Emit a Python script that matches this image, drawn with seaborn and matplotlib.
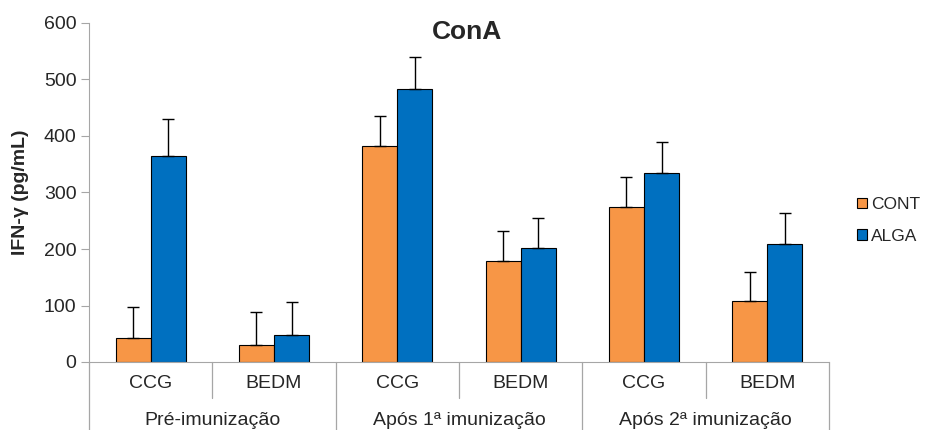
import numpy as np
import pandas as pd
import matplotlib
matplotlib.use("Agg")
import matplotlib.pyplot as plt
import matplotlib.transforms as mtransforms
import seaborn as sns

# data
periods = ["Pré-imunização", "Após 1ª imunização", "Após 2ª imunização"]
tests = ["CCG", "BEDM"]
series = ["CONT", "ALGA"]
cont_mean = [42, 30, 382, 179, 275, 108]
alga_mean = [364, 48, 484, 201, 335, 208]
cont_err = [55, 59, 54, 52, 52, 52]
alga_err = [66, 59, 55, 54, 54, 55]

colors = {"CONT": "#F79646", "ALGA": "#0070C0"}
grey = "#A6A6A6"

slots = [p + "|" + t for p in periods for t in tests]
df = pd.DataFrame({
    "slot": slots * 2,
    "value": cont_mean + alga_mean,
    "group": ["CONT"] * len(slots) + ["ALGA"] * len(slots),
})
errs = {"CONT": cont_err, "ALGA": alga_err}

sns.set_style("white")
plt.rcParams["font.family"] = ["Liberation Sans", "DejaVu Sans"]

fig = plt.figure(figsize=(9.28, 4.3), dpi=100)
ax = fig.add_axes([89 / 928, 68 / 430, 740 / 928, 339 / 430])

sns.barplot(data=df, x="slot", y="value", hue="group", order=slots,
            hue_order=series, palette=colors, width=0.57, saturation=1,
            edgecolor="black", linewidth=0.8, errorbar=None, ax=ax)

# upward-only error bars on top of each bar
for name, cont in zip(series, ax.containers):
    xs = [b.get_x() + b.get_width() / 2 for b in cont]
    ys = [b.get_height() for b in cont]
    e = np.array(errs[name])
    ax.errorbar(xs, ys, yerr=[np.zeros_like(e), e], fmt="none",
                ecolor="black", elinewidth=1, capsize=4, capthick=1, zorder=1)

ax.set_xlim(-0.5, len(slots) - 0.5)
ax.set_ylim(0, 600)
ax.set_yticks(range(0, 601, 100))
ax.tick_params(axis="y", length=6, width=0.8, color=grey, direction="out",
               labelsize=14, pad=3, left=True)
ax.set_xticks(range(len(slots)))
ax.set_xticklabels(tests * len(periods), fontsize=14)
ax.tick_params(axis="x", length=0, pad=9)
ax.set_xlabel("")
ax.set_ylabel("IFN-γ (pg/mL)", fontsize=14, fontweight="bold")
ax.yaxis.set_label_coords(-0.081, 0.5)

for s in ["top", "right"]:
    ax.spines[s].set_visible(False)
ax.spines["left"].set_color(grey)
ax.spines["bottom"].set_color(grey)

# hierarchical category axis
trans = mtransforms.blended_transform_factory(ax.transData, ax.transAxes)
n = len(tests)
for k in range(len(periods) + 1):
    x = k * n - 0.5
    ax.plot([x, x], [0, -0.205], color=grey, lw=0.9, transform=trans, clip_on=False)
for k in range(len(periods)):
    for j in range(1, n):
        x = k * n + j - 0.5
        ax.plot([x, x], [0, -0.107], color=grey, lw=0.9, transform=trans, clip_on=False)
    ax.text(k * n + (n - 1) / 2, -0.172, periods[k], transform=trans,
            ha="center", va="center", fontsize=14)

fig.text(0.503, 0.925, "ConA", ha="center", va="center", fontsize=19, fontweight="bold")

sns.move_legend(ax, loc="center left", bbox_to_anchor=(0.924, 0.487),
                bbox_transform=fig.transFigure, frameon=False, title=None,
                fontsize=12.5, handlelength=0.55, handleheight=0.55,
                handletextpad=0.25, labelspacing=0.95, borderpad=0, borderaxespad=0)

fig.savefig("out.png", dpi=100)
